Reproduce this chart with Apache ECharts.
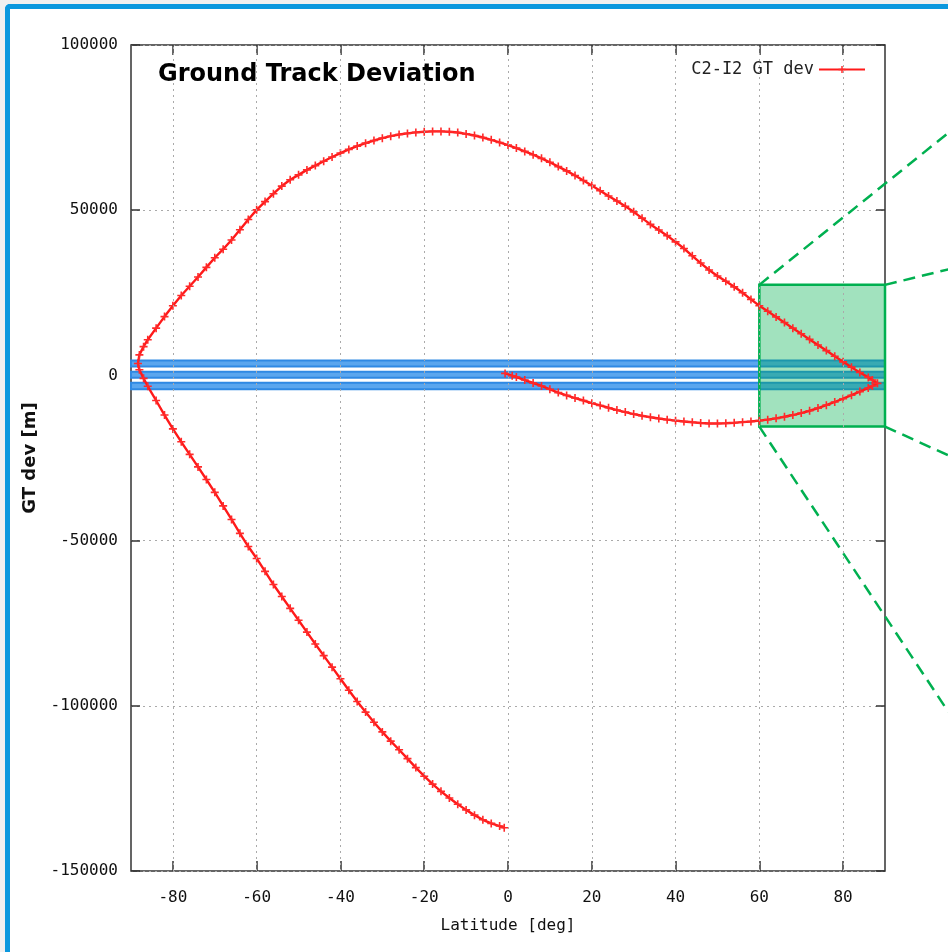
<!DOCTYPE html>
<html><head><meta charset="utf-8">
<script src="https://cdn.jsdelivr.net/npm/echarts@6/dist/echarts.min.js"></script>
<style>
html,body{margin:0;padding:0;background:#f0f0f0;overflow:hidden;width:948px;height:952px}
#frame{position:absolute;left:5px;top:4px;width:1000px;height:1000px;background:#fff;border-left:5px solid #0b98de;border-top:5px solid #0b98de;border-top-left-radius:5px}
#chart{position:absolute;left:0;top:0;width:948px;height:952px}
</style></head>
<body><div id="frame"></div><div id="chart"></div>
<script>
// ---- data ----
const xTicks = [-80, -60, -40, -20, 0, 20, 40, 60, 80];

// northbound, lower-right arc (lat -> dev [m])
const arc1Lat = [-0.7, 1, 2, 4, 6, 8, 10, 12, 14, 16, 18, 20, 22, 24, 26, 28, 30, 32, 34, 36, 38, 40, 42, 44, 46, 48, 50, 52, 54, 56, 58, 60, 62, 64, 66, 68, 70, 72, 74, 76, 78, 80, 82, 84, 86, 87, 88.2];
const arc1Dev = [600, -100, -500, -1400, -2300, -3200, -4200, -5200, -6050, -6850, -7600, -8400, -9100, -9800, -10500, -11100, -11700, -12200, -12650, -13050, -13400, -13700, -13950, -14200, -14400, -14550, -14550, -14500, -14350, -14150, -13950, -13700, -13400, -13000, -12500, -12000, -11400, -10700, -9900, -9000, -8050, -7050, -6000, -4900, -3800, -3200, -2400];

// southbound, upper arc
const arc2Lat = [87, 86, 84, 82, 80, 78, 76, 74, 72, 70, 68, 66, 64, 62, 60, 58, 56, 54, 52, 50, 48, 46, 44, 42, 40, 38, 36, 34, 32, 30, 28, 26, 24, 22, 20, 18, 16, 14, 12, 10, 8, 6, 4, 2, 0, -2, -4, -6, -8, -10, -12, -14, -16, -18, -20, -22, -24, -26, -28, -30, -32, -34, -36, -38, -40, -42, -44, -46, -48, -50, -52, -54, -56, -58, -60, -62, -64, -66, -68, -70, -72, -74, -76, -78, -80, -82, -84, -86, -87, -88, -88.35];
const arc2Dev = [-1400, -600, 900, 2500, 4100, 5800, 7500, 9200, 10900, 12600, 14300, 16000, 17700, 19400, 21100, 23000, 25000, 26800, 28500, 30100, 31900, 34000, 36200, 38400, 40400, 42300, 44000, 45700, 47600, 49500, 51200, 52800, 54300, 55900, 57500, 59000, 60500, 61900, 63200, 64500, 65700, 66800, 67800, 68800, 69700, 70500, 71300, 72000, 72600, 73100, 73500, 73750, 73850, 73850, 73750, 73550, 73250, 72900, 72400, 71800, 71100, 70300, 69400, 68400, 67300, 66100, 64800, 63500, 62200, 60700, 59200, 57300, 55000, 52600, 50100, 47200, 44100, 41000, 38200, 35600, 32700, 29800, 27000, 24200, 21100, 17800, 14300, 10800, 8700, 6200, 3600];

// northbound, lower-left arc
const arc3Lat = [-88, -87, -86, -84, -82, -80, -78, -76, -74, -72, -70, -68, -66, -64, -62, -60, -58, -56, -54, -52, -50, -48, -46, -44, -42, -40, -38, -36, -34, -32, -30, -28, -26, -24, -22, -20, -18, -16, -14, -12, -10, -8, -6, -4, -2, -0.9];
const arc3Dev = [1700, -900, -3300, -7600, -12000, -16200, -20100, -23900, -27700, -31500, -35400, -39500, -43600, -47800, -51800, -55400, -59300, -63300, -66900, -70500, -74100, -77700, -81300, -84800, -88300, -91800, -95300, -98700, -101900, -105000, -107900, -110700, -113300, -116000, -118700, -121300, -123700, -125900, -127900, -129800, -131500, -133100, -134500, -135600, -136400, -136900];

// blue tolerance bands [low, high] in m
const bandLow  = [2700, -700, -4200];
const bandHigh = [4500, 1100, -2200];

// green zoom box (lat range, dev range)
const boxLat = [60, 90];
const boxDev = [-15500, 27400];
// dashed link lines: [fromLat, fromDev] -> [toLat, toDev]
const linkFrom = [[60, 27400], [90, 27400], [90, -15500], [60, -15500]];
const linkTo   = [[105.1, 73400], [105.1, 32100], [105.1, -24200], [105.1, -101800]];

// ---- build ----
const track = [];
arc1Lat.forEach((v, i) => track.push([v, arc1Dev[i]]));
arc2Lat.forEach((v, i) => track.push([v, arc2Dev[i]]));
arc3Lat.forEach((v, i) => track.push([v, arc3Dev[i]]));

const mono = 'DejaVu Sans Mono';
const plus = 'path://M-1,-5H1V-1H5V1H1V5H-1V1H-5V-1H-1Z';
const tickStyle = {color: '#333', width: 1.5};
const gridDash = {color: '#aaaaaa', width: 1, type: [2, 4]};

const chart = echarts.init(document.getElementById('chart'), null, {renderer: 'canvas'});
chart.setOption({
  animation: false,
  backgroundColor: 'transparent',
  title: {
    text: 'Ground Track Deviation', left: 153, top: 58,
    textStyle: {fontFamily: 'DejaVu Sans', fontWeight: 'bold', fontSize: 24, color: '#000'}
  },
  legend: {
    data: ['C2-I2 GT dev'], right: 77, top: 56, align: 'right',
    itemWidth: 46, itemHeight: 9, itemGap: 10,
    textStyle: {fontFamily: mono, fontSize: 17, color: '#222'}
  },
  grid: {left: 131, right: 63, top: 45, bottom: 81, show: true, borderColor: '#333', borderWidth: 1.5, backgroundColor: 'transparent'},
  xAxis: [{
    type: 'value', min: -90, max: 90, position: 'bottom',
    axisLine: {show: false, onZero: false},
    axisTick: {show: true, inside: true, length: 10, customValues: xTicks, lineStyle: tickStyle},
    axisLabel: {customValues: xTicks, margin: 19, fontFamily: mono, fontSize: 16, color: '#111', formatter: v => String(v)},
    splitLine: {show: false},
    name: 'Latitude [deg]', nameLocation: 'middle', nameGap: 47,
    nameTextStyle: {fontFamily: mono, fontSize: 16, color: '#111'}
  }, {
    type: 'value', min: -90, max: 90, position: 'top',
    axisLine: {show: false, onZero: false},
    axisTick: {show: true, inside: true, length: 10, customValues: xTicks, lineStyle: tickStyle},
    axisLabel: {show: false}, splitLine: {show: false}
  }],
  yAxis: [{
    type: 'value', min: -150000, max: 100000, interval: 50000, position: 'left',
    axisLine: {show: false, onZero: false},
    axisTick: {show: true, inside: true, length: 9, lineStyle: tickStyle},
    axisLabel: {margin: 13, fontFamily: mono, fontSize: 16, color: '#111', formatter: v => String(v)},
    splitLine: {show: true, lineStyle: gridDash},
    name: 'GT dev [m]', nameLocation: 'middle', nameGap: 82,
    nameTextStyle: {fontFamily: 'DejaVu Sans', fontWeight: 'bold', fontSize: 18, color: '#111'}
  }, {
    type: 'value', min: -150000, max: 100000, interval: 50000, position: 'right',
    axisLine: {show: false, onZero: false},
    axisTick: {show: true, inside: true, length: 9, lineStyle: tickStyle},
    axisLabel: {show: false}, splitLine: {show: false}
  }],
  series: [{
    name: 'xgrid', type: 'line', data: [], z: 1, silent: true,
    markLine: {silent: true, symbol: ['none', 'none'], label: {show: false}, lineStyle: gridDash,
      data: xTicks.map(v => ({xAxis: v}))}
  }, {
    name: 'bands', type: 'line', data: [], z: 2, silent: true,
    markArea: {silent: true,
      itemStyle: {color: '#5aa6ee', borderColor: '#2f89e3', borderWidth: 2},
      data: bandLow.map((lo, i) => [{yAxis: lo}, {yAxis: bandHigh[i]}])}
  }, {
    name: 'C2-I2 GT dev', type: 'line', data: track, z: 3,
    symbol: plus, symbolSize: 8, showSymbol: true,
    lineStyle: {color: '#ff1a1a', width: 2.4},
    itemStyle: {color: '#ff2a2a'}
  }, {
    name: 'box', type: 'line', data: [], z: 5, silent: true,
    markArea: {silent: true,
      itemStyle: {color: 'rgba(0,176,80,0.37)', borderColor: '#00b050', borderWidth: 2.5},
      data: [[{coord: [boxLat[0], boxDev[1]]}, {coord: [boxLat[1], boxDev[0]]}]]}
  }]
});

// dashed link lines to the (off-picture) inset, positioned through the axes' scales
const links = linkFrom.map((f, i) => {
  const a = chart.convertToPixel({xAxisIndex: 0, yAxisIndex: 0}, f);
  const b = chart.convertToPixel({xAxisIndex: 0, yAxisIndex: 0}, linkTo[i]);
  return {type: 'line', z: 100, silent: true,
    shape: {x1: a[0], y1: a[1], x2: b[0], y2: b[1]},
    style: {stroke: '#00b050', lineWidth: 2.5, lineDash: [12, 7]}};
});
chart.setOption({graphic: links});
</script></body></html>
